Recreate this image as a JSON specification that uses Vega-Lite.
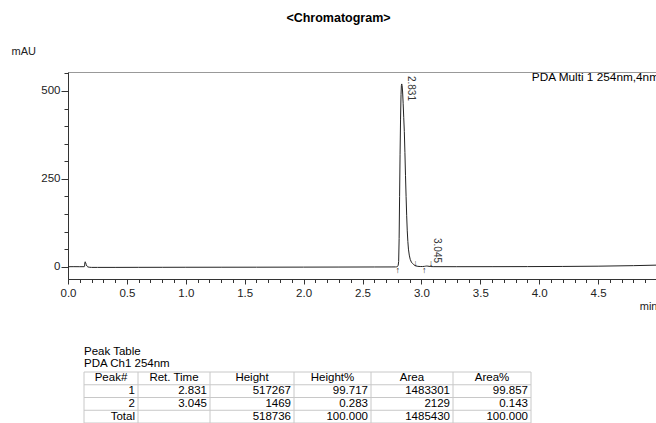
{
  "$schema": "https://vega.github.io/schema/vega-lite/v6.json",
  "padding": {"left": 10, "top": 11, "right": 0, "bottom": 0},
  "background": "white",
  "bounds": "flush",
  "spacing": 93,
  "config": {
    "font": "Liberation Sans",
    "axis": {
      "labelFont": "Liberation Sans", "titleFont": "Liberation Sans",
      "labelFontSize": 11.5, "titleFontSize": 11,
      "labelColor": "#222", "titleColor": "#222", "titleFontWeight": "normal",
      "domainColor": "#333", "tickColor": "#333", "grid": false
    }
  },
  "datasets": {
    "trace": [
      {"t": 0, "v": 0}, {"t": 0.05, "v": 0.1}, {"t": 0.1, "v": 0}, {"t": 0.138, "v": 0},
      {"t": 0.141, "v": 1}, {"t": 0.143, "v": 12}, {"t": 0.146, "v": 14}, {"t": 0.15, "v": 11},
      {"t": 0.155, "v": 6}, {"t": 0.16, "v": 2}, {"t": 0.168, "v": -0.5}, {"t": 0.18, "v": -1.5},
      {"t": 0.2, "v": -2}, {"t": 0.25, "v": -2}, {"t": 0.4, "v": -2}, {"t": 0.6, "v": -1.8},
      {"t": 0.8, "v": -1.7}, {"t": 1.0, "v": -1.6}, {"t": 1.3, "v": -1.5}, {"t": 1.6, "v": -1.4},
      {"t": 2.0, "v": -1.2}, {"t": 2.3, "v": -1.0}, {"t": 2.6, "v": -0.8}, {"t": 2.75, "v": -0.7},
      {"t": 2.78, "v": -0.6}, {"t": 2.79, "v": -0.3}, {"t": 2.798, "v": 1}, {"t": 2.803, "v": 4},
      {"t": 2.807, "v": 15}, {"t": 2.811, "v": 80}, {"t": 2.815, "v": 200}, {"t": 2.819, "v": 320},
      {"t": 2.823, "v": 420}, {"t": 2.827, "v": 490}, {"t": 2.83, "v": 515}, {"t": 2.833, "v": 520},
      {"t": 2.836, "v": 515}, {"t": 2.84, "v": 500}, {"t": 2.845, "v": 465}, {"t": 2.85, "v": 425},
      {"t": 2.855, "v": 385}, {"t": 2.86, "v": 325}, {"t": 2.865, "v": 260}, {"t": 2.87, "v": 200},
      {"t": 2.875, "v": 145}, {"t": 2.88, "v": 102}, {"t": 2.885, "v": 72}, {"t": 2.89, "v": 50},
      {"t": 2.897, "v": 33}, {"t": 2.905, "v": 21}, {"t": 2.915, "v": 13}, {"t": 2.925, "v": 9},
      {"t": 2.935, "v": 6}, {"t": 2.945, "v": 3.5}, {"t": 2.955, "v": 2}, {"t": 2.97, "v": 1},
      {"t": 2.99, "v": 0.5}, {"t": 3.01, "v": 0.5}, {"t": 3.025, "v": 0.9}, {"t": 3.035, "v": 1.5},
      {"t": 3.045, "v": 1.9}, {"t": 3.055, "v": 1.6}, {"t": 3.065, "v": 1.0}, {"t": 3.08, "v": 0.4},
      {"t": 3.1, "v": 0.1}, {"t": 3.3, "v": 0}, {"t": 3.6, "v": 0.1}, {"t": 3.9, "v": 0.3},
      {"t": 4.2, "v": 0.7}, {"t": 4.5, "v": 1.5}, {"t": 4.8, "v": 3}, {"t": 5.0, "v": 4.5}
    ],
    "marks": [
      {"t": 2.799, "dir": "up"}, {"t": 2.949, "dir": "down"},
      {"t": 3.025, "dir": "up"}, {"t": 3.081, "dir": "down"}
    ],
    "peaks": [
      {"t": 2.831, "h": 520, "label": "2.831"},
      {"t": 3.045, "h": 2, "label": "3.045"}
    ],
    "legend": [{"lbl": "PDA Multi 1 254nm,4nm"}],
    "cols": [{"k": 0}, {"k": 1}, {"k": 2}, {"k": 3}, {"k": 4}, {"k": 5}, {"k": 6}],
    "rows": [{"r": "hdr"}, {"r": "1"}, {"r": "2"}, {"r": "Total"}],
    "table": [
      {"r": "hdr", "k": 1, "s": "Peak#"}, {"r": "hdr", "k": 2, "s": "Ret. Time"},
      {"r": "hdr", "k": 3, "s": "Height"}, {"r": "hdr", "k": 4, "s": "Height%"},
      {"r": "hdr", "k": 5, "s": "Area"}, {"r": "hdr", "k": 6, "s": "Area%"},
      {"r": "1", "k": 1, "s": "1"}, {"r": "1", "k": 2, "s": "2.831"},
      {"r": "1", "k": 3, "s": "517267"}, {"r": "1", "k": 4, "s": "99.717"},
      {"r": "1", "k": 5, "s": "1483301"}, {"r": "1", "k": 6, "s": "99.857"},
      {"r": "2", "k": 1, "s": "2"}, {"r": "2", "k": 2, "s": "3.045"},
      {"r": "2", "k": 3, "s": "1469"}, {"r": "2", "k": 4, "s": "0.283"},
      {"r": "2", "k": 5, "s": "2129"}, {"r": "2", "k": 6, "s": "0.143"},
      {"r": "Total", "k": 1, "s": "Total"}, {"r": "Total", "k": 2, "s": ""},
      {"r": "Total", "k": 3, "s": "518736"}, {"r": "Total", "k": 4, "s": "100.000"},
      {"r": "Total", "k": 5, "s": "1485430"}, {"r": "Total", "k": 6, "s": "100.000"}
    ]
  },
  "vconcat": [
    {
      "width": 589,
      "height": 207,
      "view": {"stroke": "#999"},
      "title": {"text": "<Chromatogram>", "fontSize": 12.5, "fontWeight": "bold", "font": "Liberation Sans", "anchor": "middle", "dx": -24, "offset": 21, "color": "black"},
      "resolve": {"axis": {"x": "independent", "y": "independent"}},
      "layer": [
        {
          "data": {"name": "trace"},
          "mark": {"type": "line", "color": "#222", "strokeWidth": 1, "clip": true},
          "encoding": {
            "x": {
              "field": "t", "type": "quantitative",
              "scale": {"domain": [0, 5], "nice": false, "zero": false},
              "axis": {
                "orient": "bottom",
                "values": [0, 0.5, 1, 1.5, 2, 2.5, 3, 3.5, 4, 4.5],
                "format": ".1f",
                "tickSize": 5,
                "labelPadding": 3,
                "labelFlush": false,
                "labelOverlap": false,
                "title": "min",
                "titleX": 589,
                "titleY": 30,
                "titleAlign": "right",
                "titleBaseline": "alphabetic"
              }
            },
            "y": {
              "field": "v", "type": "quantitative",
              "scale": {"domain": [-35, 554], "nice": false, "zero": false},
              "axis": {
                "orient": "left",
                "values": [0, 250, 500],
                "tickSize": 7,
                "labelPadding": 1,
                "labelOverlap": false,
                "title": "mAU",
                "titleAngle": 0,
                "titleAlign": "left",
                "titleBaseline": "middle",
                "titleX": -57,
                "titleY": -21
              }
            }
          }
        },
        {
          "data": {"name": "marks"},
          "transform": [{"filter": "datum.dir == 'up'"}],
          "mark": {"type": "text", "text": "↑", "baseline": "top", "fontSize": 9, "color": "#222", "dy": -1},
          "encoding": {
            "x": {"field": "t", "type": "quantitative", "axis": null},
            "y": {"datum": 0, "type": "quantitative", "axis": null}
          }
        },
        {
          "data": {"name": "marks"},
          "transform": [{"filter": "datum.dir == 'down'"}],
          "mark": {"type": "text", "text": "↓", "baseline": "bottom", "fontSize": 9, "color": "#222", "dy": 1},
          "encoding": {
            "x": {"field": "t", "type": "quantitative", "axis": null},
            "y": {"datum": 0, "type": "quantitative", "axis": null}
          }
        },
        {
          "data": {"name": "peaks"},
          "transform": [{"filter": "datum.label == '2.831'"}],
          "mark": {"type": "text", "angle": 90, "align": "left", "baseline": "bottom", "fontSize": 10, "color": "#333", "dx": -8, "dy": -5},
          "encoding": {
            "x": {
              "field": "t", "type": "quantitative",
              "axis": {"orient": "bottom", "values": [0,0.1,0.2,0.3,0.4,0.5,0.6,0.7,0.8,0.9,1,1.1,1.2,1.3,1.4,1.5,1.6,1.7,1.8,1.9,2,2.1,2.2,2.3,2.4,2.5,2.6,2.7,2.8,2.9,3,3.1,3.2,3.3,3.4,3.5,3.6,3.7,3.8,3.9,4,4.1,4.2,4.3,4.4,4.5,4.6,4.7,4.8,4.9], "tickSize": 3.5, "labels": false, "domain": false, "title": null}
            },
            "y": {
              "field": "h", "type": "quantitative",
              "axis": {"orient": "left", "values": [0,50,100,150,200,250,300,350,400,450,500,550], "tickSize": 4, "labels": false, "domain": false, "title": null}
            },
            "text": {"field": "label"}
          }
        },
        {
          "data": {"name": "peaks"},
          "transform": [{"filter": "datum.label == '3.045'"}],
          "mark": {"type": "text", "angle": 90, "align": "left", "baseline": "bottom", "fontSize": 10, "color": "#333", "dx": -28, "dy": -5},
          "encoding": {
            "x": {"field": "t", "type": "quantitative", "axis": null},
            "y": {"field": "h", "type": "quantitative", "axis": null},
            "text": {"field": "label"}
          }
        },
        {
          "data": {"name": "legend"},
          "mark": {"type": "text", "align": "right", "baseline": "top", "fontSize": 11.8, "color": "black", "clip": true, "dx": 2, "dy": 0},
          "encoding": {
            "x": {"datum": 5, "type": "quantitative", "axis": null},
            "y": {"datum": 554, "type": "quantitative", "axis": null},
            "text": {"field": "lbl"}
          }
        }
      ]
    },
    {
      "width": 479,
      "height": 51,
      "view": {"stroke": null},
      "title": {"text": "Peak Table", "subtitle": "PDA Ch1 254nm", "anchor": "start", "dx": 16, "fontSize": 11.5, "fontWeight": "normal", "font": "Liberation Sans", "subtitleFont": "Liberation Sans", "subtitleFontSize": 11.5, "subtitleColor": "black", "color": "black", "subtitlePadding": 1, "offset": 2},
      "layer": [
        {
          "data": {"name": "cols"},
          "mark": {"type": "rule", "color": "#c8c8c8", "strokeWidth": 1},
          "encoding": {
            "x": {"field": "k", "type": "quantitative", "scale": {"domain": [0, 1, 2, 3, 4, 5, 6], "range": [16, 70, 142, 226, 303, 385, 463]}, "axis": null}
          }
        },
        {
          "data": {"name": "rows"},
          "mark": {"type": "rule", "color": "#c8c8c8", "strokeWidth": 1},
          "encoding": {
            "y": {"field": "r", "type": "nominal", "bandPosition": 0, "scale": {"domain": ["hdr", "1", "2", "Total"], "paddingInner": 0, "paddingOuter": 0}, "axis": null},
            "x": {"datum": 0, "type": "quantitative"},
            "x2": {"datum": 6}
          }
        },
        {
          "data": {"name": "rows"},
          "transform": [{"filter": "datum.r == 'Total'"}],
          "mark": {"type": "rule", "color": "#c8c8c8", "strokeWidth": 1},
          "encoding": {
            "y": {"field": "r", "type": "nominal", "bandPosition": 1, "axis": null},
            "x": {"datum": 0, "type": "quantitative"},
            "x2": {"datum": 6}
          }
        },
        {
          "data": {"name": "table"},
          "transform": [{"filter": "datum.r == 'hdr'"}, {"calculate": "datum.k - 0.5", "as": "kc"}],
          "mark": {"type": "text", "align": "center", "fontSize": 11.5, "color": "black"},
          "encoding": {
            "x": {"field": "kc", "type": "quantitative"},
            "y": {"field": "r", "type": "nominal", "axis": null},
            "text": {"field": "s"}
          }
        },
        {
          "data": {"name": "table"},
          "transform": [{"filter": "datum.r != 'hdr'"}],
          "mark": {"type": "text", "align": "right", "fontSize": 11.5, "color": "black", "dx": -3},
          "encoding": {
            "x": {"field": "k", "type": "quantitative"},
            "y": {"field": "r", "type": "nominal", "axis": null},
            "text": {"field": "s"}
          }
        }
      ]
    }
  ]
}
